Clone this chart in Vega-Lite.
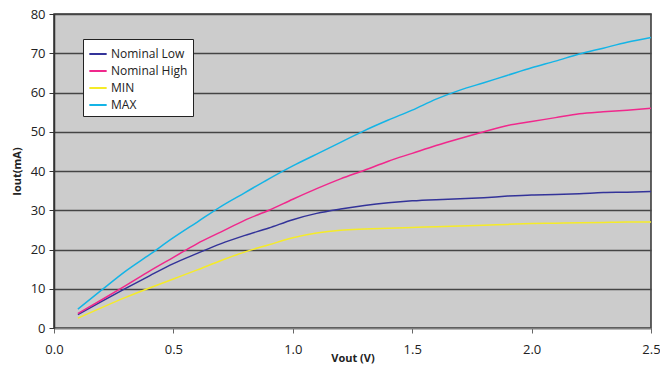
{
  "$schema": "https://vega.github.io/schema/vega-lite/v6.json",
  "width": 597,
  "height": 314,
  "autosize": {"type": "none"},
  "padding": {"left": 54, "top": 14, "right": 9, "bottom": 39},
  "background": "white",
  "config": {
    "font": "Open Sans",
    "view": {"fill": "#CCCCCC", "stroke": "#333333", "strokeWidth": 1.5}
  },
  "data": {"values": [
    {"v":0.1,"s":"Nominal Low","i":3.4},{"v":0.2,"s":"Nominal Low","i":6.8},{"v":0.3,"s":"Nominal Low","i":10.1},{"v":0.4,"s":"Nominal Low","i":13.3},{"v":0.5,"s":"Nominal Low","i":16.4},{"v":0.6,"s":"Nominal Low","i":19.0},{"v":0.7,"s":"Nominal Low","i":21.5},{"v":0.8,"s":"Nominal Low","i":23.6},{"v":0.9,"s":"Nominal Low","i":25.5},{"v":1.0,"s":"Nominal Low","i":27.6},{"v":1.1,"s":"Nominal Low","i":29.2},{"v":1.2,"s":"Nominal Low","i":30.3},{"v":1.3,"s":"Nominal Low","i":31.2},{"v":1.4,"s":"Nominal Low","i":31.9},{"v":1.5,"s":"Nominal Low","i":32.4},{"v":1.6,"s":"Nominal Low","i":32.7},{"v":1.7,"s":"Nominal Low","i":32.9},{"v":1.8,"s":"Nominal Low","i":33.2},{"v":1.9,"s":"Nominal Low","i":33.6},{"v":2.0,"s":"Nominal Low","i":33.9},{"v":2.1,"s":"Nominal Low","i":34.0},{"v":2.2,"s":"Nominal Low","i":34.2},{"v":2.3,"s":"Nominal Low","i":34.5},{"v":2.4,"s":"Nominal Low","i":34.6},{"v":2.5,"s":"Nominal Low","i":34.8},
    {"v":0.1,"s":"Nominal High","i":3.7},{"v":0.2,"s":"Nominal High","i":7.2},{"v":0.3,"s":"Nominal High","i":10.8},{"v":0.4,"s":"Nominal High","i":14.5},{"v":0.5,"s":"Nominal High","i":18.0},{"v":0.6,"s":"Nominal High","i":21.5},{"v":0.7,"s":"Nominal High","i":24.5},{"v":0.8,"s":"Nominal High","i":27.5},{"v":0.9,"s":"Nominal High","i":30.0},{"v":1.0,"s":"Nominal High","i":32.8},{"v":1.1,"s":"Nominal High","i":35.5},{"v":1.2,"s":"Nominal High","i":38.0},{"v":1.3,"s":"Nominal High","i":40.2},{"v":1.4,"s":"Nominal High","i":42.5},{"v":1.5,"s":"Nominal High","i":44.5},{"v":1.6,"s":"Nominal High","i":46.5},{"v":1.7,"s":"Nominal High","i":48.3},{"v":1.8,"s":"Nominal High","i":50.0},{"v":1.9,"s":"Nominal High","i":51.6},{"v":2.0,"s":"Nominal High","i":52.6},{"v":2.1,"s":"Nominal High","i":53.6},{"v":2.2,"s":"Nominal High","i":54.6},{"v":2.3,"s":"Nominal High","i":55.1},{"v":2.4,"s":"Nominal High","i":55.5},{"v":2.5,"s":"Nominal High","i":56.0},
    {"v":0.1,"s":"MIN","i":2.5},{"v":0.2,"s":"MIN","i":5.2},{"v":0.3,"s":"MIN","i":7.8},{"v":0.4,"s":"MIN","i":10.2},{"v":0.5,"s":"MIN","i":12.5},{"v":0.6,"s":"MIN","i":14.8},{"v":0.7,"s":"MIN","i":17.2},{"v":0.8,"s":"MIN","i":19.4},{"v":0.9,"s":"MIN","i":21.2},{"v":1.0,"s":"MIN","i":23.0},{"v":1.1,"s":"MIN","i":24.2},{"v":1.2,"s":"MIN","i":24.9},{"v":1.3,"s":"MIN","i":25.2},{"v":1.4,"s":"MIN","i":25.4},{"v":1.5,"s":"MIN","i":25.6},{"v":1.6,"s":"MIN","i":25.8},{"v":1.7,"s":"MIN","i":26.0},{"v":1.8,"s":"MIN","i":26.2},{"v":1.9,"s":"MIN","i":26.4},{"v":2.0,"s":"MIN","i":26.6},{"v":2.1,"s":"MIN","i":26.7},{"v":2.2,"s":"MIN","i":26.8},{"v":2.3,"s":"MIN","i":26.9},{"v":2.4,"s":"MIN","i":27.0},{"v":2.5,"s":"MIN","i":27.0},
    {"v":0.1,"s":"MAX","i":4.8},{"v":0.2,"s":"MAX","i":9.7},{"v":0.3,"s":"MAX","i":14.5},{"v":0.4,"s":"MAX","i":18.7},{"v":0.5,"s":"MAX","i":23.0},{"v":0.6,"s":"MAX","i":27.0},{"v":0.7,"s":"MAX","i":31.0},{"v":0.8,"s":"MAX","i":34.5},{"v":0.9,"s":"MAX","i":38.0},{"v":1.0,"s":"MAX","i":41.3},{"v":1.1,"s":"MAX","i":44.3},{"v":1.2,"s":"MAX","i":47.3},{"v":1.3,"s":"MAX","i":50.3},{"v":1.4,"s":"MAX","i":53.0},{"v":1.5,"s":"MAX","i":55.5},{"v":1.6,"s":"MAX","i":58.3},{"v":1.7,"s":"MAX","i":60.6},{"v":1.8,"s":"MAX","i":62.5},{"v":1.9,"s":"MAX","i":64.4},{"v":2.0,"s":"MAX","i":66.3},{"v":2.1,"s":"MAX","i":68.0},{"v":2.2,"s":"MAX","i":69.8},{"v":2.3,"s":"MAX","i":71.3},{"v":2.4,"s":"MAX","i":72.8},{"v":2.5,"s":"MAX","i":74.0}
  ]},
  "mark": {"type": "line", "interpolate": "monotone", "strokeWidth": 1.5},
  "encoding": {
    "x": {
      "field": "v", "type": "quantitative",
      "scale": {"domain": [0, 2.5], "nice": false},
      "axis": {
        "title": "Vout (V)", "titleFontSize": 11, "titleFontWeight": "bold", "titleColor": "#222",
        "titlePadding": -4,
        "values": [0, 0.5, 1.0, 1.5, 2.0, 2.5], "format": ".1f",
        "labelFontSize": 13, "labelColor": "#222", "labelPadding": 10, "labelFlush": false, "labelOverlap": false,
        "tickSize": 5, "tickColor": "#666", "domainColor": "#808080", "domainWidth": 1.5,
        "grid": false
      }
    },
    "y": {
      "field": "i", "type": "quantitative",
      "scale": {"domain": [0, 80], "nice": false},
      "axis": {
        "title": "Iout(mA)", "titleFontSize": 11, "titleFontWeight": "bold", "titleColor": "#222",
        "titlePadding": 8,
        "values": [0, 10, 20, 30, 40, 50, 60, 70, 80],
        "labelFontSize": 13, "labelColor": "#222", "labelPadding": 4, "labelFlush": false, "labelOverlap": false,
        "tickSize": 5, "tickColor": "#333", "domainColor": "#333", "domainWidth": 1.5,
        "grid": true, "gridColor": "#444", "gridWidth": 1.5, "gridOpacity": 1
      }
    },
    "color": {
      "field": "s", "type": "nominal",
      "scale": {"domain": ["Nominal Low", "Nominal High", "MIN", "MAX"], "range": ["#333399", "#F0288C", "#F5EB28", "#14B4E6"]},
      "legend": {
        "title": null, "orient": "none", "legendX": 29, "legendY": 25,
        "fillColor": "white", "strokeColor": "#222", "padding": 5,
        "symbolType": "stroke", "symbolSize": 300, "symbolStrokeWidth": 2,
        "labelFontSize": 12, "labelColor": "#222", "rowPadding": 1, "labelOffset": 3,
        "labelLimit": 200
      }
    }
  }
}
